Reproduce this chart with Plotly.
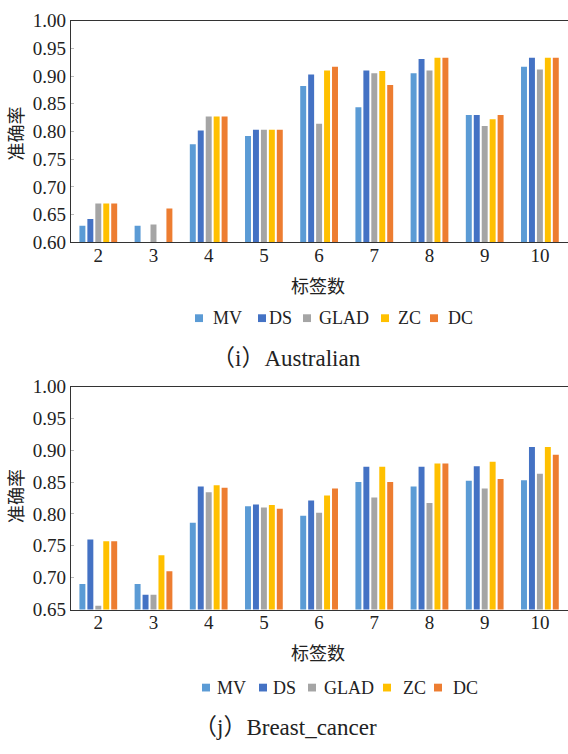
import plotly.graph_objects as go

# ---------------- data ----------------
categories = ["2", "3", "4", "5", "6", "7", "8", "9", "10"]
series_names = ["MV", "DS", "GLAD", "ZC", "DC"]
series_colors = ["#5B9BD5", "#4472C4", "#A5A5A5", "#FFC000", "#ED7D31"]

# (i) Australian
mv_australian = [0.630, 0.630, 0.777, 0.792, 0.882, 0.844, 0.905, 0.830, 0.917]
ds_australian = [0.642, None, 0.802, 0.803, 0.903, 0.910, 0.931, 0.830, 0.933]
glad_australian = [0.670, 0.632, 0.827, 0.803, 0.814, 0.905, 0.910, 0.810, 0.912]
zc_australian = [0.670, None, 0.827, 0.803, 0.910, 0.909, 0.933, 0.822, 0.933]
dc_australian = [0.670, 0.661, 0.827, 0.803, 0.917, 0.884, 0.933, 0.830, 0.933]

# (j) Breast_cancer
mv_breast = [0.690, 0.690, 0.786, 0.812, 0.797, 0.850, 0.843, 0.852, 0.853]
ds_breast = [0.760, 0.673, 0.843, 0.815, 0.821, 0.874, 0.874, 0.875, 0.905]
glad_breast = [0.656, 0.673, 0.834, 0.810, 0.802, 0.826, 0.817, 0.840, 0.863]
zc_breast = [0.757, 0.735, 0.845, 0.814, 0.829, 0.874, 0.879, 0.882, 0.905]
dc_breast = [0.757, 0.710, 0.841, 0.808, 0.840, 0.850, 0.879, 0.855, 0.893]

y_title = "准确率"
x_title = "标签数"
caption_top = "（i）Australian"
caption_bottom = "（j）Breast_cancer"

# ---------------- layout helpers ----------------
W, H = 568, 754


def px(x):
    return x / W


def py(y):
    return 1 - y / H


SERIF = "Liberation Serif"
CJK = "Noto Sans CJK SC"
MIX = "Liberation Serif, Noto Sans CJK SC"
TXT = "#222222"

fig = go.Figure()

top_sets = [mv_australian, ds_australian, glad_australian, zc_australian, dc_australian]
bottom_sets = [mv_breast, ds_breast, glad_breast, zc_breast, dc_breast]

for name, color, vals in zip(series_names, series_colors, top_sets):
    fig.add_trace(go.Bar(x=categories, y=vals, name=name, marker_color=color,
                         marker_line_width=0, xaxis="x", yaxis="y",
                         showlegend=False))
for name, color, vals in zip(series_names, series_colors, bottom_sets):
    fig.add_trace(go.Bar(x=categories, y=vals, name=name, marker_color=color,
                         marker_line_width=0, xaxis="x2", yaxis="y2",
                         showlegend=False))


def xaxis_cfg(anchor):
    return dict(anchor=anchor, type="category", showline=True, linecolor="#333333",
                linewidth=1, mirror=True, showgrid=False, zeroline=False, ticks="",
                ticklabelstandoff=-4,
                tickfont=dict(family=SERIF, size=19, color=TXT),
                domain=[px(70.7), px(567.5)])


def yaxis_cfg(anchor, dom, rng):
    return dict(anchor=anchor, domain=dom, range=rng, showline=True, linecolor="#333333",
                linewidth=1, showgrid=False, zeroline=False, ticks="inside", ticklen=3,
                tickcolor="#bbbbbb", dtick=0.05, tickformat=".2f",
                tickfont=dict(family=SERIF, size=19, color=TXT))


fig.update_layout(
    width=W, height=H,
    margin=dict(l=0, r=0, t=0, b=0),
    paper_bgcolor="white", plot_bgcolor="white",
    barmode="group", bargap=0.28, bargroupgap=0.25,
    showlegend=False,
    xaxis=xaxis_cfg("y"),
    yaxis=yaxis_cfg("x", [py(239), py(11)], [0.60, 1.00]),
    xaxis2=xaxis_cfg("y2"),
    yaxis2=yaxis_cfg("x2", [py(616.7), py(387.3)], [0.65, 1.00]),
)

annotations = []
shapes = []


def add_panel_texts(ytitle_y, xtitle_y, legend_y, marker_xs, text_xs, caption, cap_x, cap_y):
    annotations.append(dict(text=y_title, x=px(15), y=py(ytitle_y), xref="paper", yref="paper",
                            textangle=-90, showarrow=False, xanchor="center", yanchor="middle",
                            font=dict(family=CJK, size=18, color=TXT)))
    annotations.append(dict(text=x_title, x=px(318), y=py(xtitle_y), xref="paper", yref="paper",
                            showarrow=False, xanchor="center", yanchor="middle",
                            font=dict(family=CJK, size=18, color=TXT)))
    for name, color, mx, tx in zip(series_names, series_colors, marker_xs, text_xs):
        shapes.append(dict(type="rect", xref="paper", yref="paper",
                           x0=px(mx - 4), x1=px(mx + 4), y0=py(legend_y + 4), y1=py(legend_y - 4),
                           fillcolor=color, line=dict(width=0)))
        annotations.append(dict(text=name, x=px(tx), y=py(legend_y), xref="paper", yref="paper",
                                showarrow=False, xanchor="left", yanchor="middle",
                                font=dict(family=SERIF, size=18, color=TXT)))
    annotations.append(dict(text=caption, x=px(cap_x), y=py(cap_y), xref="paper", yref="paper",
                            showarrow=False, xanchor="center", yanchor="middle",
                            font=dict(family=MIX, size=23, color=TXT)))


add_panel_texts(127, 283, 317, [199, 262, 307, 385, 434], [211, 267, 317, 396, 446],
                caption_top, 286, 358)
add_panel_texts(500, 660, 697, [206, 263, 312, 387, 438], [215, 271, 322, 401, 451],
                caption_bottom, 285, 738)

fig.update_layout(annotations=annotations, shapes=shapes)

fig.write_html("out.html")
